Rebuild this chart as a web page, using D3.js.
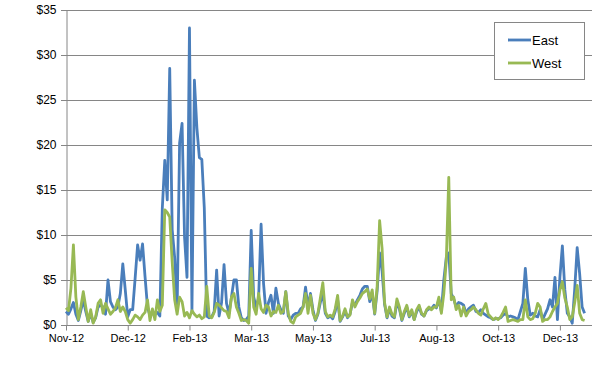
<!DOCTYPE html>
<html><head><meta charset="utf-8">
<script src="https://cdn.jsdelivr.net/npm/d3@7"></script>
<style>
html,body{margin:0;padding:0;background:#fff;}
svg{display:block;font-family:"Liberation Sans",Arial,sans-serif;}
</style></head>
<body><svg id="c" width="613" height="368"></svg>
<script>
// Data: one value every 2 days starting 1 Nov 2012
const startDate = new Date(2012, 10, 1);
const stepDays = 2;
const seriesNames = ["East", "West"];
const eastValues = [
 1.5,1.2,1.8,2.5,1.2,0.5,1.6,2.8,1.5,0.4,
 1.3,0.3,0.8,2.0,2.2,2.0,1.2,5.0,2.6,2.0,
 1.7,2.0,3.5,6.8,3.9,0.9,1.7,1.7,5.2,8.9,
 7.2,9.0,5.4,2.0,1.0,1.5,1.2,1.4,1.0,13.0,
 18.3,13.9,28.5,10.6,7.5,1.7,20.2,22.4,9.8,5.3,
 33.0,1.5,27.2,21.9,18.6,18.4,13.0,1.0,0.8,0.9,
 1.5,6.1,1.0,2.5,6.7,2.4,1.3,3.1,5.0,5.0,
 2.0,0.8,0.5,0.6,1.0,10.5,3.1,2.0,3.0,11.2,
 4.6,1.3,2.5,3.3,1.3,4.1,2.4,1.7,1.3,3.7,
 1.0,0.6,1.1,1.3,1.3,1.8,2.0,4.2,2.0,3.5,
 1.7,0.5,1.2,2.5,3.5,1.3,0.8,1.0,0.7,1.5,
 2.8,0.4,0.9,1.5,0.8,1.2,2.5,2.2,2.8,3.3,
 4.0,4.3,4.3,2.6,3.5,1.2,3.8,8.0,6.0,2.3,
 0.8,1.8,1.0,0.8,2.5,1.8,0.5,1.3,2.0,0.9,
 1.5,0.6,1.5,2.0,1.2,1.0,1.6,1.8,1.8,2.2,
 1.9,2.8,1.5,5.0,7.5,8.0,3.5,2.9,2.0,2.5,
 2.4,2.2,1.3,1.8,2.0,2.2,1.5,1.4,1.7,1.3,
 1.1,0.9,0.8,0.6,0.7,0.7,0.8,1.1,1.3,0.9,
 1.0,0.9,0.8,0.6,1.5,2.4,6.3,2.8,1.1,1.3,
 1.0,0.9,1.7,0.6,1.2,1.8,2.8,2.0,5.3,0.6,
 5.3,8.8,3.9,1.3,0.9,0.2,4.0,8.6,5.7,2.0,1.3
];
const westValues = [
 1.9,1.6,4.1,8.9,3.1,0.6,2.0,3.7,2.0,0.4,
 1.7,0.2,0.9,2.4,2.8,1.3,2.4,1.8,1.2,1.5,
 1.9,2.8,1.5,2.0,1.5,0.6,0.2,0.6,1.1,0.9,
 0.6,1.1,1.4,2.8,0.5,1.8,0.6,2.8,1.5,2.2,
 12.8,12.5,12.0,7.0,2.8,1.2,3.1,2.6,1.0,1.4,
 0.8,1.6,1.2,0.9,1.1,0.7,0.9,4.3,1.0,0.8,
 1.4,2.4,2.2,1.9,1.6,1.5,0.8,3.1,3.5,2.0,
 1.3,0.5,0.6,0.5,0.2,6.3,2.0,1.2,3.5,1.8,
 1.4,2.2,2.0,1.0,1.5,1.4,2.2,1.3,1.5,3.7,
 1.3,0.4,0.2,0.9,1.1,1.3,2.0,3.5,1.3,3.3,
 1.3,0.6,1.3,3.0,4.7,1.5,0.9,1.1,0.9,1.8,
 3.3,0.5,1.0,1.8,0.9,1.1,2.8,2.0,2.6,3.0,
 3.5,3.7,4.0,2.9,3.9,1.3,4.3,11.6,8.5,2.5,
 0.9,2.0,1.2,0.9,2.9,2.0,0.6,1.5,2.2,1.0,
 1.7,0.6,1.7,2.2,1.3,1.0,1.7,2.0,1.7,2.0,
 2.0,3.1,1.3,3.5,7.2,16.4,2.8,3.1,1.7,2.2,
 1.0,2.0,1.0,1.5,1.7,2.0,1.7,1.3,1.1,1.8,
 2.4,1.2,0.9,0.6,0.8,0.6,0.9,1.4,2.0,0.4,
 0.5,0.6,0.5,0.4,0.6,0.6,2.8,0.9,0.6,0.7,
 1.3,2.4,2.0,0.4,0.6,0.6,0.9,1.5,2.0,2.4,
 3.9,4.8,3.0,2.0,0.6,0.9,2.5,4.4,1.3,0.6,0.5
];
const yTicks = [0,5,10,15,20,25,30,35];
const xTickDayOffsets = [0,50,100,150,200,250,300,350,400];
const colors = {East:"#4A7EBB", West:"#98B954"};

(function(){
const svg = d3.select("#c");
const mL = 66, mR = 592, mT = 10, mB = 325;
const x = d3.scaleTime().domain([startDate, d3.timeDay.offset(startDate, 426)]).range([mL, mR]);
const y = d3.scaleLinear().domain([0,35]).range([mB, mT]);

// gridlines
svg.append("g").selectAll("line").data(yTicks).join("line")
  .attr("x1", mL-5).attr("x2", mR)
  .attr("y1", d=>Math.round(y(d))+0.5).attr("y2", d=>Math.round(y(d))+0.5)
  .attr("stroke", "#868686").attr("stroke-width", 1);

// y axis
const yAxis = d3.axisLeft(y).tickValues(yTicks).tickSize(0).tickPadding(10).tickFormat(d=>"$"+d);
const gy = svg.append("g").attr("transform", `translate(${mL+0.5},0)`).call(yAxis);
gy.select(".domain").attr("stroke","#868686");
gy.selectAll("text").attr("font-size", 12).attr("fill", "#000").attr("font-family","Liberation Sans, Arial, sans-serif");

// x axis
const xTickDates = xTickDayOffsets.map(o=>d3.timeDay.offset(startDate, o));
const xAxis = d3.axisBottom(x).tickValues(xTickDates).tickSize(5).tickPadding(4).tickFormat(d3.timeFormat("%b-%y"));
const gx = svg.append("g").attr("transform", `translate(0,${Math.round(mB)+0.5})`).call(xAxis);
gx.select(".domain").attr("stroke","#868686").attr("d", `M${mL},0H${mR}`);
gx.selectAll(".tick line").attr("stroke","#868686");
gx.selectAll("text").attr("font-size", 11).attr("fill", "#000").attr("font-family","Liberation Sans, Arial, sans-serif");

// lines
const dates = eastValues.map((_,i)=>d3.timeDay.offset(startDate, i*stepDays));
const line = d3.line().x((d,i)=>x(dates[i])).y(d=>y(d)).curve(d3.curveLinear);
[["East", eastValues], ["West", westValues]].forEach(([name, vals])=>{
  svg.append("path").datum(vals).attr("d", line)
    .attr("fill","none").attr("stroke", colors[name]).attr("stroke-width", 2.8)
    .attr("stroke-linejoin","round");
});

// legend
const lg = svg.append("g");
lg.append("rect").attr("x", 494.5).attr("y", 22.5).attr("width", 90).attr("height", 57)
  .attr("fill","#fff").attr("stroke","#868686");
seriesNames.forEach((n,i)=>{
  const yy = 40 + i*23;
  lg.append("line").attr("x1",508).attr("x2",531).attr("y1",yy).attr("y2",yy)
    .attr("stroke",colors[n]).attr("stroke-width",2.8);
  lg.append("text").attr("x",532).attr("y",yy+4.5).text(n)
    .attr("font-size",13).attr("fill","#000");
});
})();
</script></body></html>
